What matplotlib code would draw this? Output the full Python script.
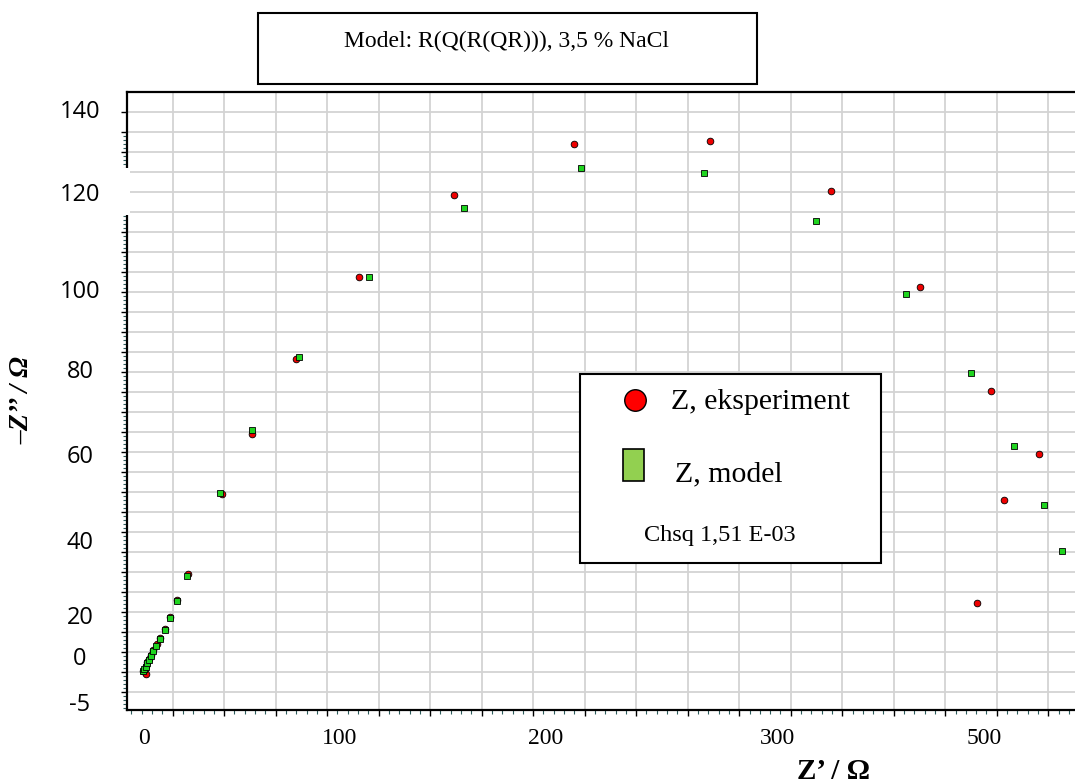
import matplotlib
matplotlib.use("Agg")
import matplotlib.pyplot as plt
from matplotlib.patches import Rectangle
from matplotlib.lines import Line2D
from matplotlib.transforms import blended_transform_factory

# experiment (red) Z' and -Z'' in ohm
eks_re = [12.9, 14.3, 13.6, 14.5, 15.2, 16.2, 17.4, 18.8, 20.6, 22.9, 25.3, 28.4,
          32.8, 38.9, 58.9, 76.4, 102.0, 138.5, 193.7, 263.9, 342.8, 413.6,
          465.1, 506.5, 534.8, 514.4, 498.3]
eks_im = [0.2, -0.5, 0.8, 1.5, 2.4, 3.3, 4.3, 5.6, 6.9, 8.5, 10.7, 13.8,
          17.9, 24.4, 44.4, 59.5, 78.2, 98.7, 119.2, 132.0, 132.7, 120.3,
          96.3, 70.3, 54.5, 43.0, 17.2]

# model (green)
mod_re = [12.9, 13.5, 14.3, 15.0, 16.0, 17.2, 18.5, 20.4, 22.8, 25.3, 28.6, 32.7,
          38.2, 57.7, 76.0, 103.7, 144.5, 199.9, 267.7, 339.3, 404.7, 457.0,
          495.0, 520.1, 537.4, 548.0]
mod_im = [0.2, 0.7, 1.3, 2.2, 3.0, 4.0, 5.3, 6.5, 8.2, 10.4, 13.4, 17.7,
          24.1, 44.8, 60.4, 78.8, 98.8, 116.0, 126.0, 124.8, 112.8, 94.5,
          74.7, 56.6, 41.8, 30.3]

# tick labels as they sit on the picture
xlab = ['0', '100', '200', '300', '500']
xlab_at = [13.5, 127.0, 247.3, 382.4, 502.8]
ylab = ['140', '120', '100', '80', '60', '40', '20', '0', '-5']
ylab_at = [140, 119.3, 95, 75.1, 53.8, 32.2, 13.4, 3.3, -8.3]

W, H = 1075, 784
serif = 'Liberation Serif'


def fx(px):
    return px / W


def fy(py):
    return 1 - py / H


fig = plt.figure(figsize=(W / 100, H / 100), dpi=100)
ax = fig.add_axes([fx(127), fy(710), (W - 127) / W, (710 - 92) / H])

ax.set_xlim(3.4, 555.6)
ax.set_ylim(-9.5, 145)

ax.set_xticks(range(30, 556, 30))
ax.set_yticks(range(-5, 145, 5))
ax.set_xticks(range(6, 556, 6), minor=True)
ax.set_yticks(range(-9, 135, 1), minor=True)
ax.set_xticklabels([])
ax.set_yticklabels([])
ax.tick_params(which='major', length=4, width=1, color='black')
ax.tick_params(which='minor', length=3, width=0.8, color='#2e5c5c')
ax.grid(True, which='major', color='#d3d3d3', linewidth=1.3)
ax.set_axisbelow(True)

for s in ['left', 'bottom', 'top']:
    ax.spines[s].set_linewidth(1.6)
ax.spines['right'].set_visible(False)

ax.plot(eks_re, eks_im, 'o', ms=4.8, mfc='#ee0000', mec='black', mew=0.6,
        linestyle='none', zorder=3)
ax.plot(mod_re, mod_im, 's', ms=3.8, mfc='#1fd41f', mec='black', mew=0.6,
        linestyle='none', zorder=4)

ty = blended_transform_factory(ax.transAxes, ax.transData)
for lab, v in zip(ylab, ylab_at):
    ax.text((80 - 127) / (W - 127), v, lab, transform=ty, ha='center', va='center',
            fontsize=17, family='Open Sans', clip_on=False)
tx = blended_transform_factory(ax.transData, ax.transAxes)
for lab, v in zip(xlab, xlab_at):
    ax.text(v, (710 - 738) / (710 - 92), lab, transform=tx, ha='center', va='center',
            fontsize=17, family=serif, clip_on=False)

# gap in the left spine behind the "120" label
fig.add_artist(Rectangle((fx(110), fy(215)), 19.5 / W, 47 / H, transform=fig.transFigure,
                         facecolor='white', edgecolor='none', zorder=5))

# title box
fig.add_artist(Rectangle((fx(258), fy(84)), (757 - 258) / W, (84 - 13) / H,
                         transform=fig.transFigure, facecolor='white',
                         edgecolor='black', linewidth=1.5))
fig.text(fx(507), fy(41), 'Model: R(Q(R(QR))), 3,5 % NaCl', ha='center', va='center',
         fontsize=17, family=serif)

# legend box
fig.add_artist(Rectangle((fx(580), fy(563)), (881 - 580) / W, (563 - 374) / H,
                         transform=fig.transFigure, facecolor='white',
                         edgecolor='black', linewidth=1.5))
fig.add_artist(Line2D([fx(635)], [fy(400)], transform=fig.transFigure, marker='o',
                      ms=15.5, mfc='#ff0000', mec='black', mew=1.0, linestyle='none'))
fig.text(fx(671), fy(402), 'Z, eksperiment', ha='left', va='center', fontsize=21.5,
         family=serif)
fig.add_artist(Rectangle((fx(622.5), fy(481)), 21 / W, 32 / H, transform=fig.transFigure,
                         facecolor='#92d050', edgecolor='black', linewidth=1.2))
fig.text(fx(675), fy(474), 'Z, model', ha='left', va='center', fontsize=21.5, family=serif)
fig.text(fx(720), fy(535), 'Chsq 1,51 E-03', ha='center', va='center', fontsize=17.5,
         family=serif)

# axis titles
fig.text(fx(22), fy(400), '\u2013Z\u2019\u2019 / \u03a9', rotation=90, ha='center',
         va='center', fontsize=20, family=serif, weight='bold', style='italic')
fig.text(fx(833), fy(758), 'Z\u2019 / \u03a9', ha='center', va='top', fontsize=21,
         family=serif, weight='bold')

fig.savefig('out.png', dpi=100)
